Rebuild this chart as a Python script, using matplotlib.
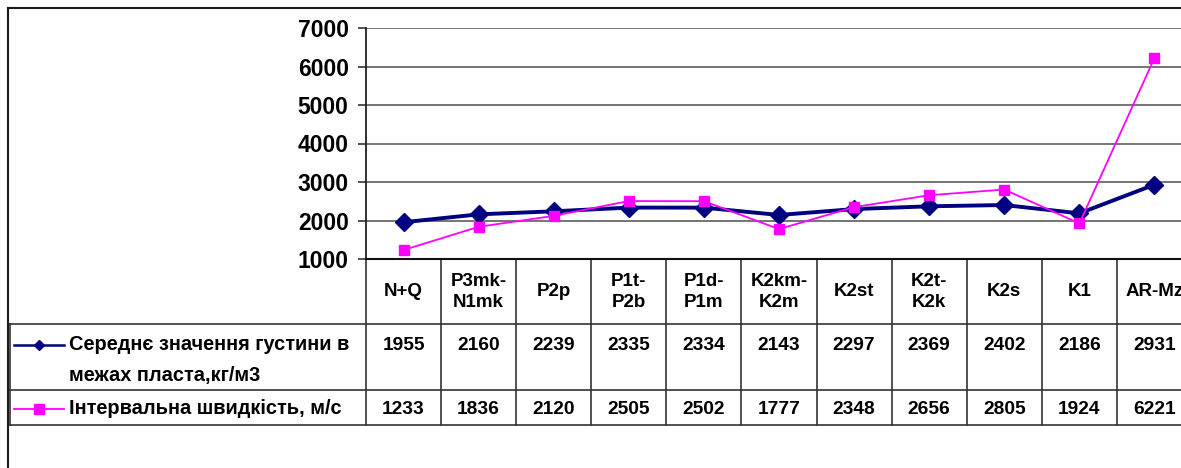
import matplotlib
matplotlib.use("Agg")
import matplotlib.pyplot as plt
from matplotlib.transforms import blended_transform_factory
from matplotlib.lines import Line2D

plt.rcParams['font.family'] = ['Liberation Sans', 'DejaVu Sans']
plt.rcParams['font.weight'] = 'bold'

# Stratigraphic units (column headers of the data table)
categories = ["N+Q", "P3mk-\nN1mk", "P2p", "P1t-\nP2b", "P1d-\nP1m", "K2km-\nK2m",
              "K2st", "K2t-\nK2k", "K2s", "K1", "AR-Mz"]

density_label = "Середнє значення густини в\nмежах пласта,кг/м3"
density = [1955, 2160, 2239, 2335, 2334, 2143, 2297, 2369, 2402, 2186, 2931]

velocity_label = "Інтервальна швидкість, м/с"
velocity = [1233, 1836, 2120, 2505, 2502, 1777, 2348, 2656, 2805, 1924, 6221]

y_ticks = [1000, 2000, 3000, 4000, 5000, 6000, 7000]

W, H = 1181, 468
fig = plt.figure(figsize=(W / 100, H / 100), dpi=100)
fig.patch.set_facecolor('white')

# Overlay in pixel coordinates (origin top-left) for the frame and the table
ov = fig.add_axes([0, 0, 1, 1], zorder=0)
ov.set_xlim(0, W)
ov.set_ylim(H, 0)
ov.axis('off')

# Plot area
x0, x1 = 366, 1192
y_top, y_bot = 28, 259
ax = fig.add_axes([x0 / W, (H - y_bot) / H, (x1 - x0) / W, (y_bot - y_top) / H], zorder=2)
ax.patch.set_alpha(0)
n = len(categories)
xs = [i + 0.5 for i in range(n)]
ax.set_xlim(0, n)
ax.set_ylim(1000, 7000)
ax.set_yticks(y_ticks)
ax.set_yticklabels([str(v) for v in y_ticks], fontsize=16.5, fontweight='bold')
ax.tick_params(axis='y', direction='out', length=5.5, width=1.2, pad=7, color='#333333')
ax.set_xticks([])
for s in ['top', 'right']:
    ax.spines[s].set_visible(False)
ax.spines['left'].set_color('#222222')
ax.spines['left'].set_linewidth(1.3)
ax.spines['bottom'].set_color('#111111')
ax.spines['bottom'].set_linewidth(1.5)
for v in y_ticks[1:]:
    ax.axhline(v, color='#6a6a6a', lw=1.3, zorder=1)

navy = '#000080'
magenta = '#FF00FF'
ax.plot(xs, density, color=navy, lw=2.8, marker='D', ms=9.5, mfc=navy, mec=navy,
        zorder=3, clip_on=False)
ax.plot(xs, velocity, color=magenta, lw=1.3, marker='s', ms=7.5, mfc=magenta, mec=magenta,
        zorder=4, clip_on=False)

# Outer chart frame
fc = '#1a1a1a'
ov.plot([8, W], [8, 8], color=fc, lw=1.5)
ov.plot([8, 8], [8, H], color=fc, lw=1.5)

# Data table below the plot area
tr = blended_transform_factory(ax.transData, ov.transData)
row_lines = [324, 390, 425]
lc = '#333333'
for yl in row_lines:
    ov.plot([10, W], [yl, yl], color=lc, lw=1.2)
ov.plot([10, 10], [324, 425], color=lc, lw=1.2)
for i in range(n + 1):
    ov.plot([i, i], [y_bot, 425], color=lc, lw=1.2, transform=tr, clip_on=False)

tfs = 13.8
for x, lab in zip(xs, categories):
    ov.text(x, 292, lab, transform=tr, ha='center', va='center', fontsize=13.5,
            fontweight='bold', linespacing=1.25, multialignment='center', clip_on=False)

row1_y, row2_y = 345, 409
for x, v in zip(xs, density):
    ov.text(x, row1_y, str(v), transform=tr, ha='center', va='center', fontsize=tfs,
            fontweight='bold', clip_on=False)
for x, v in zip(xs, velocity):
    ov.text(x, row2_y, str(v), transform=tr, ha='center', va='center', fontsize=tfs,
            fontweight='bold', clip_on=False)

# Legend keys inside the row-label cells
ov.add_line(Line2D([14, 64], [row1_y, row1_y], color=navy, lw=1.8))
ov.plot([39], [row1_y], marker='D', ms=5, color=navy)
ov.add_line(Line2D([14, 64], [row2_y, row2_y], color=magenta, lw=1.3))
ov.plot([39], [row2_y], marker='s', ms=7, color=magenta)

lfs = 14.4
for k, line in enumerate(density_label.split('\n')):
    ov.text(69, row1_y + 31 * k, line, ha='left', va='center', fontsize=lfs, fontweight='bold')
ov.text(69, row2_y, velocity_label, ha='left', va='center', fontsize=lfs, fontweight='bold')

fig.savefig('out.png', dpi=100)
